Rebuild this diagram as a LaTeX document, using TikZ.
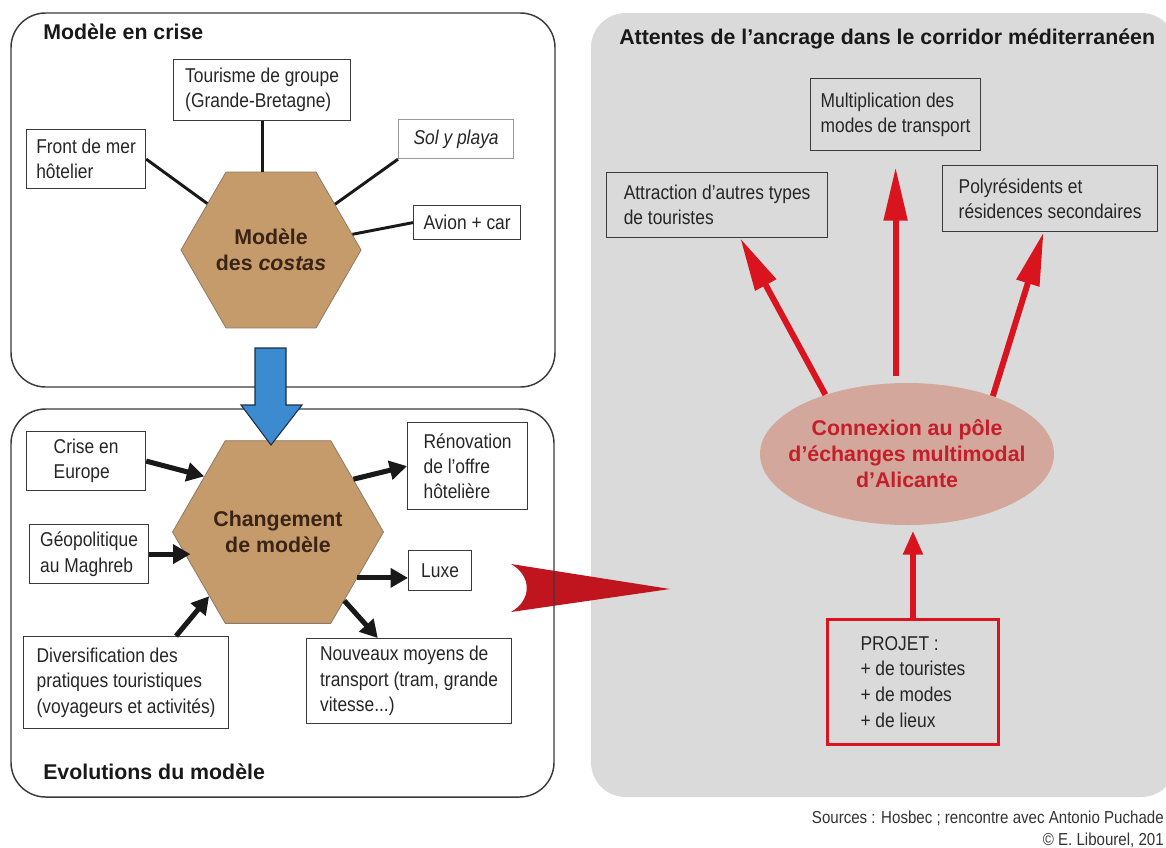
\documentclass[tikz,border=0pt]{standalone}
\usepackage{fontspec}
\setmainfont{Liberation Sans}
\newfontfamily\narrowfont{Liberation Sans}[FakeStretch=0.87]
\usepackage{xcolor}
\usetikzlibrary{shapes.geometric,arrows.meta}

\definecolor{boxline}{HTML}{3A3A3A}
\definecolor{hexfill}{HTML}{C59B6B}
\definecolor{hexline}{HTML}{8C7A66}
\definecolor{hextext}{HTML}{3B2415}
\definecolor{panelgray}{HTML}{DADADA}
\definecolor{hubfill}{HTML}{D3A79B}
\definecolor{hubtext}{HTML}{C41E2A}
\definecolor{redline}{HTML}{D9141E}
\definecolor{chevron}{HTML}{C0151F}
\definecolor{blueblock}{HTML}{3C8AD0}
\definecolor{bluedark}{HTML}{1E2F45}

\begin{document}
\begin{tikzpicture}[
    x=0.75pt, y=-0.75pt,
    frame/.style={draw=boxline, line width=1.1pt, rounded corners=26pt},
    box/.style={draw=boxline, line width=0.9pt, anchor=north west, align=left, inner sep=0pt, text=black!85, font=\narrowfont\fontsize{15}{19}\selectfont},
    hexa/.style={regular polygon, regular polygon sides=6, minimum size=132pt, inner sep=0pt, fill=hexfill, draw=hexline, line width=0.6pt, text=hextext, align=center, font=\bfseries\fontsize{16}{19.5}\selectfont},
    title/.style={anchor=west, inner sep=0pt, text=black!90, font=\bfseries\fontsize{16}{19}\selectfont},
    link/.style={line width=2.2pt, draw=black!90},
    blackarrow/.style={line width=3.8pt, draw=black!90, -{Triangle[length=13pt,width=14pt]}},
    redarrow/.style={line width=4.5pt, draw=redline, -{Triangle[length=40pt,width=17pt]}},
    credit/.style={anchor=east, inner sep=0pt, text=black!80, font=\narrowfont\fontsize{13}{17}\selectfont}
]
\useasboundingbox (0,0) rectangle (1166,847);
\clip (0,0) rectangle (1166,847);

% Right panel
\fill[panelgray, rounded corners=26pt] (591,13) rectangle (1176,797);

% Big red chevron between the two parts
\fill[chevron] (511,564) -- (670,589) -- (511,612) .. controls (532,600) and (532,576) .. (511,564) -- cycle;

% Left frames
\draw[frame] (11,13) rectangle (555,387);
\draw[frame] (11,409) rectangle (554,797);
\node[title] (crisetitle) at (43,32) {Modèle en crise};
\node[title] (evotitle) at (43,772) {Evolutions du modèle};

% Model in crisis
\node[hexa] (costas) at (271,250) {Modèle\\des \textit{costas}};
\node[box, minimum width=132.75pt, minimum height=45.75pt] (tourisme) at (173,59) {Tourisme de groupe\\(Grande-Bretagne)};
\node[box, minimum width=89.25pt, minimum height=44.25pt] (front) at (26,129) {Front de mer\\hôtelier};
\node[box, draw=black!40, minimum width=86.25pt, minimum height=29.25pt] (sol) at (398,119) {\itshape Sol y playa};
\node[box, minimum width=80.25pt, minimum height=25.5pt] (avion) at (413,205) {Avion + car};

\draw[link] (front.east) -- (costas);
\draw[link] (tourisme.south) -- (tourisme.south |- costas.north);
\draw[link] (sol.south west) -- (costas);
\draw[link] (avion.west) -- (costas);

% Evolutions of the model
\node[hexa] (changement) at (278,532) {Changement\\de modèle};
\node[box, minimum width=89.25pt, minimum height=44.25pt] (crise) at (26,431) {Crise en\\Europe};
\node[box, minimum width=89.25pt, minimum height=44.25pt] (geo) at (29,524) {Géopolitique\\au Maghreb};
\node[box, minimum width=153.75pt, minimum height=69pt] (div) at (23,636) {Diversification des\\pratiques touristiques\\(voyageurs et activités)};
\node[box, minimum width=90pt, minimum height=65.25pt] (renov) at (407,422) {Rénovation\\de l’offre\\hôtelière};
\node[box, minimum width=47.25pt, minimum height=30pt] (luxe) at (408,550) {Luxe};
\node[box, minimum width=153.75pt, minimum height=63.75pt] (nouveaux) at (306,638) {Nouveaux moyens de\\transport (tram, grande\\vitesse...)};

\draw[blackarrow] (crise.east) -- (changement.143);
\draw[blackarrow] (geo.east) -- (geo.east -| changement.200);
\draw[blackarrow] (div.43) -- (changement.223);
\draw[blackarrow] (changement.35) -- (renov.west);
\draw[blackarrow] (changement.-30) -- (changement.-30 -| luxe.west);
\draw[blackarrow] (changement.-46) -- (nouveaux.126);

% Blue block arrow from crisis to evolutions
\draw[fill=blueblock, draw=bluedark, line width=0.8pt] (255,348) -- (286,348) -- (286,405) -- (302,405) -- (271,445) -- (241,405) -- (255,405) -- cycle;

% Corridor expectations
\node[title] (corridortitle) at (619,39) {Attentes de l’ancrage dans le corridor méditerranéen};
\node[ellipse, fill=hubfill, inner xsep=-12pt, inner ysep=0pt, minimum width=220.5pt, minimum height=106.5pt, align=center, text=hubtext, font=\bfseries\fontsize{16}{19.5}\selectfont] (hub) at (907,454) {Connexion au pôle\\d’échanges multimodal\\d’Alicante};
\node[box, minimum width=127.5pt, minimum height=54pt] (multi) at (810,78) {Multiplication des\\modes de transport};
\node[box, minimum width=165.75pt, minimum height=48.75pt] (attraction) at (606,172) {Attraction d’autres types\\de touristes};
\node[box, minimum width=161.25pt, minimum height=49.5pt] (poly) at (942,165) {Polyrésidents et\\résidences secondaires};
\node[box, draw=redline, line width=2.2pt, minimum width=128.25pt, minimum height=93.75pt, font=\narrowfont\fontsize{15}{19.3}\selectfont] (projet) at (826,618) {PROJET :\\+ de touristes\\+ de modes\\+ de lieux};

\draw[redarrow] (hub.144) -- (attraction.-55);
\draw[redarrow, shorten <=5pt, shorten >=12pt] (multi.south |- hub.north) -- (multi.south);
\draw[redarrow] (hub.34) -- (poly.-101);
\draw[redarrow, -{Triangle[length=18pt,width=14pt]}, shorten >=4pt] (projet.north) -- (projet.north |- hub.south);

% Sources
\node[credit] (sources) at (1164,818) {Sources : Hosbec ; rencontre avec Antonio Puchade};
\node[credit] (copyright) at (1164,840) {© E. Libourel, 201};

\end{tikzpicture}
\end{document}
